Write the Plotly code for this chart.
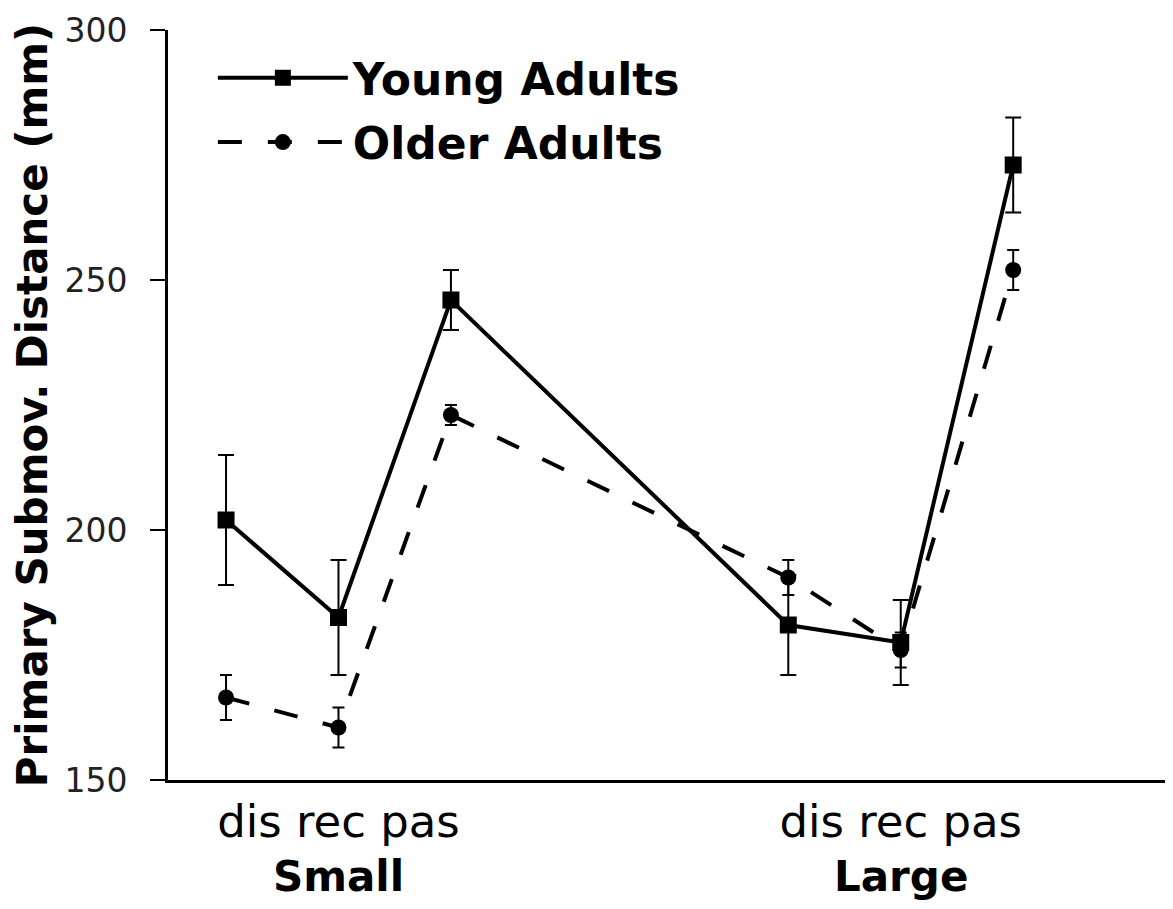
import plotly.graph_objects as go

x_pos = [0, 1, 2, 5, 6, 7]
group_ticks = [1, 6]
tick_text = ["dis rec pas", "dis rec pas"]
groups = ["Small", "Large"]

young = [202, 182.5, 246, 181, 177.5, 273]
young_err = [13, 11.5, 6, 10, 8.5, 9.5]
older = [166.5, 160.5, 223, 190.5, 176, 252]
older_err = [4.5, 4, 2, 3.5, 3.5, 4]

fig = go.Figure()
fig.add_trace(go.Scatter(
    x=x_pos, y=young, name="<b>Young Adults</b>", mode="lines+markers", legendgroup="y",
    line=dict(color="black", width=4),
    marker=dict(symbol="square", size=17, color="black"),
    error_y=dict(type="data", array=young_err, color="black", thickness=2, width=8),
))
fig.add_trace(go.Scatter(
    x=x_pos, y=older, name="<b>Older Adults</b>", mode="lines+markers", legendgroup="o",
    line=dict(color="black", width=4, dash="24px,26px"),
    marker=dict(symbol="circle", size=16, color="black"),
    error_y=dict(type="data", array=older_err, color="black", thickness=2, width=6),
))

for g, c in zip(groups, group_ticks):
    fig.add_annotation(x=c, y=0, xref="x", yref="paper", yanchor="middle", yshift=-96,
                       text="<b>" + g + "</b>", showarrow=False,
                       font=dict(family="DejaVu Sans", size=42, color="black"))

fig.update_layout(
    width=1157, height=893, plot_bgcolor="white", paper_bgcolor="white",
    margin=dict(l=160, r=0, t=22, b=121, autoexpand=False),
    showlegend=True,
    legend=dict(x=0.045, y=0.983, xanchor="left", yanchor="top", bgcolor="rgba(0,0,0,0)",
                font=dict(family="DejaVu Sans", size=44, color="black"),
                itemwidth=130, tracegroupgap=4),
    xaxis=dict(range=[-0.516, 8.35], tickmode="array", tickvals=group_ticks, ticktext=tick_text,
               showgrid=False, zeroline=False, showline=True, linecolor="black", linewidth=3,
               ticks="", automargin=False,
               tickfont=dict(family="DejaVu Sans", size=45, color="black")),
    yaxis=dict(range=[150, 300], tickvals=[150, 200, 250, 300], showgrid=False, zeroline=False,
               showline=True, linecolor="black", linewidth=3, ticks="outside", ticklen=15,
               tickwidth=2, tickcolor="black", ticklabelstandoff=16, automargin=False,
               tickfont=dict(family="DejaVu Sans", size=33, color="#222"),
               title=dict(text="<b>Primary Submov. Distance (mm)</b>", standoff=14,
                          font=dict(family="DejaVu Sans", size=42, color="black"))),
)
fig.write_html("out.html")
